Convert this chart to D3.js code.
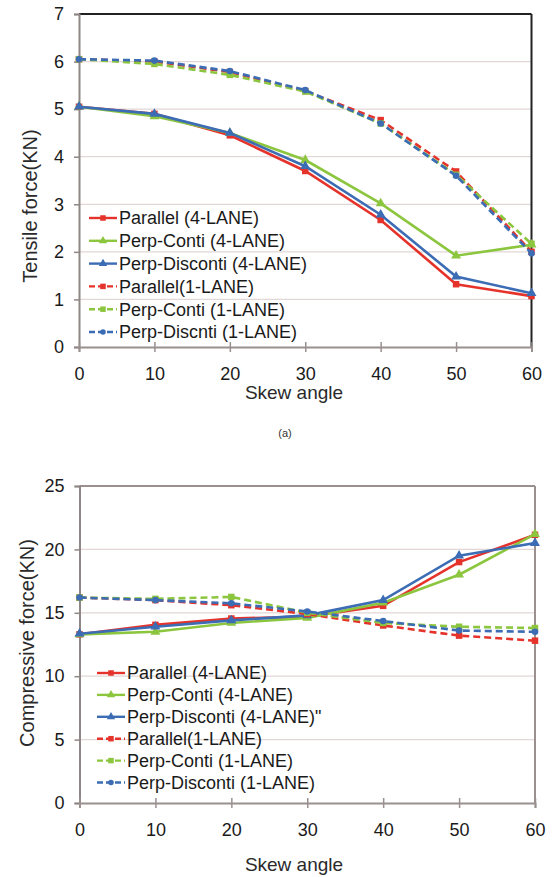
<!DOCTYPE html>
<html>
<head>
<meta charset="utf-8">
<script src="https://cdn.jsdelivr.net/npm/d3@7"></script>
<style>
  html, body { margin: 0; padding: 0; background: #fff; }
  svg { display: block; font-family: "Liberation Sans", Arial, sans-serif; }
</style>
</head>
<body>
<svg id="chart" width="553" height="877"></svg>
<script>
// ---------- data ----------
const skewAngles = [0, 10, 20, 30, 40, 50, 60];

const seriesNamesTop = ["Parallel (4-LANE)", "Perp-Conti (4-LANE)", "Perp-Disconti (4-LANE)",
                        "Parallel(1-LANE)", "Perp-Conti (1-LANE)", "Perp-Discnti (1-LANE)"];
const seriesNamesBottom = ["Parallel (4-LANE)", "Perp-Conti (4-LANE)", "Perp-Disconti (4-LANE)\"",
                           "Parallel(1-LANE)", "Perp-Conti (1-LANE)", "Perp-Disconti (1-LANE)"];

// Tensile force (KN)
const tParallel4     = [5.05, 4.90, 4.45, 3.70, 2.67, 1.32, 1.07];
const tPerpConti4    = [5.05, 4.85, 4.50, 3.93, 3.02, 1.92, 2.15];
const tPerpDisconti4 = [5.05, 4.90, 4.50, 3.80, 2.78, 1.48, 1.13];
const tParallel1     = [6.05, 6.00, 5.78, 5.38, 4.77, 3.69, 2.00];
const tPerpConti1    = [6.05, 5.95, 5.72, 5.37, 4.70, 3.62, 2.17];
const tPerpDiscnti1  = [6.05, 6.02, 5.80, 5.40, 4.70, 3.60, 1.97];

// Compressive force (KN)
const cParallel4     = [13.30, 14.05, 14.55, 14.70, 15.55, 19.00, 21.15];
const cPerpConti4    = [13.30, 13.50, 14.20, 14.60, 15.80, 18.00, 21.20];
const cPerpDisconti4 = [13.35, 13.90, 14.40, 14.80, 16.00, 19.50, 20.50];
const cParallel1     = [16.20, 16.00, 15.60, 14.90, 14.00, 13.20, 12.80];
const cPerpConti1    = [16.20, 16.10, 16.25, 15.00, 14.20, 13.90, 13.80];
const cPerpDisconti1 = [16.20, 16.00, 15.75, 15.10, 14.35, 13.60, 13.50];

const xTicks = [0, 10, 20, 30, 40, 50, 60];
const yTicksTop = [0, 1, 2, 3, 4, 5, 6, 7];
const yTicksBottom = [0, 5, 10, 15, 20, 25];

// ---------- styles ----------
const RED = "#e5332b", GREEN = "#8cc63f", BLUE = "#3b6cb4";
const styles = [
  {color: RED,   dash: null,  marker: "square"},
  {color: GREEN, dash: null,  marker: "triangle"},
  {color: BLUE,  dash: null,  marker: "triangle"},
  {color: RED,   dash: "7,4", marker: "square"},
  {color: GREEN, dash: "7,4", marker: "square"},
  {color: BLUE,  dash: "7,4", marker: "circle"}
];

const svg = d3.select("#chart");

function drawChart(cfg) {
  const g = svg.append("g");
  const x = d3.scaleLinear().domain([0, 60]).range([cfg.left, cfg.right]);
  const y = d3.scaleLinear().domain([0, cfg.yMax]).range([cfg.bottom, cfg.top]);

  // gridlines
  g.append("g").selectAll("line").data(cfg.yTicks.filter(v => v > 0 && v < cfg.yMax)).join("line")
    .attr("x1", cfg.left).attr("x2", cfg.right)
    .attr("y1", d => y(d)).attr("y2", d => y(d))
    .attr("stroke", "#e2d6d6").attr("stroke-width", 1.3);

  // frame top & right
  g.append("line").attr("x1", cfg.left).attr("x2", cfg.right).attr("y1", cfg.top).attr("y2", cfg.top)
    .attr("stroke", cfg.frameColor).attr("stroke-width", 2);
  g.append("line").attr("x1", cfg.right).attr("x2", cfg.right).attr("y1", cfg.top).attr("y2", cfg.bottom)
    .attr("stroke", cfg.frameColor).attr("stroke-width", 2);

  // y axis
  const yAxis = d3.axisLeft(y).tickValues(cfg.yTicks).tickSize(5).tickPadding(10).tickFormat(d3.format("d"));
  const ya = g.append("g").attr("transform", `translate(${cfg.left},0)`).call(yAxis);
  ya.select(".domain").attr("stroke", "#8f8686").attr("stroke-width", 2);
  ya.selectAll(".tick line").attr("stroke", "#8f8686").attr("stroke-width", 1.5);
  ya.selectAll(".tick text").attr("font-size", 18).attr("fill", "#1a1a1a")
    .attr("font-family", "'Liberation Sans', Arial, sans-serif");

  // x axis
  const xAxis = d3.axisBottom(x).tickValues(xTicks).tickSize(5).tickPadding(15).tickFormat(d3.format("d"));
  const xa = g.append("g").attr("transform", `translate(0,${cfg.bottom})`).call(xAxis);
  xa.select(".domain").attr("stroke", "#9a9090").attr("stroke-width", 2);
  xa.selectAll(".tick line").attr("y1", -5).attr("y2", 5).attr("stroke", "#9a9090").attr("stroke-width", 1.5);
  xa.selectAll(".tick text").attr("font-size", 18).attr("fill", "#1a1a1a")
    .attr("font-family", "'Liberation Sans', Arial, sans-serif");

  // axis titles
  g.append("text").attr("x", cfg.xTitleX).attr("y", cfg.xTitleY).attr("text-anchor", "middle")
    .attr("font-size", 19).attr("fill", "#2a2a2a").text("Skew angle");
  g.append("text").attr("transform", `translate(${cfg.yTitleX},${cfg.yTitleY}) rotate(-90)`)
    .attr("text-anchor", "middle").attr("font-size", 20).attr("fill", "#2a2a2a").text(cfg.yTitle);

  // lines
  const line = d3.line().x(d => x(d[0])).y(d => y(d[1]));
  [0, 1, 2, 3, 4, 5].forEach(i => {
    const st = styles[i];
    const pts = skewAngles.map((a, k) => [a, cfg.series[i][k]]);
    g.append("path").datum(pts).attr("d", line).attr("fill", "none")
      .attr("stroke", st.color).attr("stroke-width", 2.6)
      .attr("stroke-dasharray", st.dash);
    drawMarkers(g, pts.map(p => [x(p[0]), y(p[1])]), st, 6.5);
  });

  // legend
  const lg = g.append("g");
  cfg.names.forEach((name, i) => {
    const st = styles[i];
    const yy = cfg.legendY + i * cfg.legendStep;
    lg.append("line").attr("x1", cfg.legendX).attr("x2", cfg.legendX + 28).attr("y1", yy).attr("y2", yy)
      .attr("stroke", st.color).attr("stroke-width", 2.4).attr("stroke-dasharray", st.dash ? "6,3" : null);
    drawMarkers(lg, [[cfg.legendX + 14, yy]], st, 5.5);
    lg.append("text").attr("x", cfg.legendX + 30).attr("y", yy).attr("dy", "0.35em")
      .attr("font-size", 18).attr("fill", "#1a1a1a").text(name);
  });
}

function drawMarkers(g, pts, st, size) {
  const sym = st.marker === "square" ? d3.symbolSquare : st.marker === "triangle" ? d3.symbolTriangle : d3.symbolCircle;
  const area = st.marker === "circle" ? size * size * 0.8 : size * size;
  g.append("g").selectAll("path").data(pts).join("path")
    .attr("transform", d => `translate(${d[0]},${d[1]})`)
    .attr("d", d3.symbol().type(sym).size(area))
    .attr("fill", st.color);
}

drawChart({
  left: 79, right: 531.5, top: 14, bottom: 347, yMax: 7,
  yTicks: yTicksTop, frameColor: "#222",
  series: [tParallel4, tPerpConti4, tPerpDisconti4, tParallel1, tPerpConti1, tPerpDiscnti1],
  names: seriesNamesTop,
  legendX: 89, legendY: 218, legendStep: 22.8,
  xTitleX: 294, xTitleY: 399, yTitleX: 37, yTitleY: 206, yTitle: "Tensile force(KN)"
});

svg.append("text").attr("x", 285).attr("y", 437).attr("text-anchor", "middle")
  .attr("font-size", 11).attr("fill", "#333").text("(a)");

drawChart({
  left: 79.5, right: 535, top: 486, bottom: 803, yMax: 25,
  yTicks: yTicksBottom, frameColor: "#9a9090",
  series: [cParallel4, cPerpConti4, cPerpDisconti4, cParallel1, cPerpConti1, cPerpDisconti1],
  names: seriesNamesBottom,
  legendX: 97, legendY: 673, legendStep: 21.9,
  xTitleX: 294, xTitleY: 871, yTitleX: 34, yTitleY: 643, yTitle: "Compressive force(KN)"
});
</script>
</body>
</html>
